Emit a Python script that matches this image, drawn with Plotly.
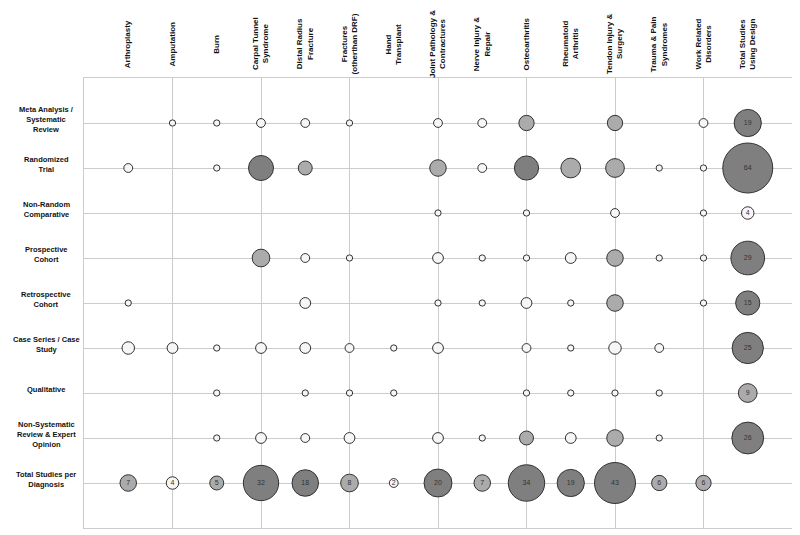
import plotly.graph_objects as go

# ---------------- data ----------------
diagnoses = ["Arthroplasty", "Amputation", "Burn", "Carpal Tunnel<br>Syndrome",
             "Distal Radius<br>Fracture", "Fractures<br>(otherthan DRF)", "Hand<br>Transplant",
             "Joint Pathology &<br>Contractures", "Nerve Injury &<br>Repair", "Osteoarthritis",
             "Rheumatoid<br>Arthritis", "Tendon Injury &<br>Surgery", "Trauma & Pain<br>Syndromes",
             "Work Related<br>Disorders"]
total_col_label = "Total Studies<br>Using Design"

designs = ["Meta Analysis /<br>Systematic<br>Review", "Randomized<br>Trial", "Non-Random<br>Comparative",
           "Prospective<br>Cohort", "Retrospective<br>Cohort", "Case Series / Case<br>Study",
           "Qualitative", "Non-Systematic<br>Review & Expert<br>Opinion"]
total_row_label = "Total Studies per<br>Diagnosis"

meta_analysis   = [0, 1, 1, 2, 2, 1, 0, 2, 2, 6, 0, 6, 0, 2]
randomized      = [2, 0, 1, 16, 5, 0, 0, 7, 2, 15, 10, 9, 1, 1]
non_random      = [0, 0, 0, 0, 0, 0, 0, 1, 0, 1, 0, 2, 0, 1]
prospective     = [0, 0, 0, 8, 2, 1, 0, 3, 1, 1, 3, 7, 1, 1]
retrospective   = [1, 0, 0, 0, 3, 0, 0, 1, 1, 3, 1, 7, 0, 1]
case_series     = [4, 3, 1, 3, 3, 2, 1, 3, 0, 2, 1, 4, 2, 0]
qualitative     = [0, 0, 1, 0, 1, 1, 1, 0, 0, 1, 1, 1, 1, 0]
non_systematic  = [0, 0, 1, 3, 2, 3, 0, 3, 1, 5, 3, 7, 1, 0]
matrix = [meta_analysis, randomized, non_random, prospective, retrospective,
          case_series, qualitative, non_systematic]

total_per_diagnosis = [7, 4, 5, 32, 18, 8, 2, 20, 7, 34, 19, 43, 6, 6]
total_per_design = [19, 64, 4, 29, 15, 25, 9, 26]

# ---------------- style ----------------
FONT = "Liberation Sans, Arial, sans-serif"
SCALE = 6.25  # px diameter per sqrt(count)


def fill_for(n):
    if n <= 4:
        return "#f6f6f6"
    if n <= 12:
        return "#ababab"
    return "#7f7f7f"


xs, ys, sizes, colors, texts = [], [], [], [], []
for r, row in enumerate(matrix):
    for c, v in enumerate(row):
        if v > 0:
            xs.append(c); ys.append(r); sizes.append(SCALE * v ** 0.5)
            colors.append(fill_for(v)); texts.append("")
n_rows = len(designs)
n_cols = len(diagnoses)
for c, v in enumerate(total_per_diagnosis):
    xs.append(c); ys.append(n_rows); sizes.append(SCALE * v ** 0.5)
    colors.append(fill_for(v)); texts.append(str(v))
for r, v in enumerate(total_per_design):
    xs.append(n_cols); ys.append(r); sizes.append(SCALE * v ** 0.5)
    colors.append(fill_for(v)); texts.append(str(v))

fig = go.Figure()
fig.add_trace(go.Scatter(
    x=xs, y=ys, mode="markers+text", text=texts, textposition="middle center",
    textfont=dict(family=FONT, size=7, color="#333333"),
    marker=dict(size=sizes, color=colors, line=dict(color="#333333", width=1), opacity=1),
    hoverinfo="skip", showlegend=False, cliponaxis=False,
))

# page body has an 8px margin; size the figure so the plot area lands where the reference has it
W, H = 792, 527
L, R, T, B = 76, 8, 70, 7
pw = W - L - R
ph = H - T - B

annotations = []
for c, lab in enumerate(diagnoses + [total_col_label]):
    annotations.append(dict(
        x=c, xref="x", y=1 + 34 / ph, yref="paper", text="<b>" + lab + "</b>",
        textangle=-90, showarrow=False, xanchor="center", yanchor="middle",
        font=dict(family=FONT, size=8, color="#111111"), align="center"))
for r, lab in enumerate(designs + [total_row_label]):
    annotations.append(dict(
        x=(38 - L) / pw, xref="paper", y=r, yref="y", text="<b>" + lab + "</b>",
        showarrow=False, xanchor="center", yanchor="middle", yshift=4,
        font=dict(family=FONT, size=7.5, color="#111111"), align="center"))

fig.update_layout(
    width=W, height=H, margin=dict(l=L, r=R, t=T, b=B, autoexpand=False),
    paper_bgcolor="white", plot_bgcolor="white",
    annotations=annotations,
    xaxis=dict(range=[-1, n_cols + 1], tickvals=list(range(1, n_cols, 2)), showticklabels=False,
               ticks="", showgrid=True, gridcolor="#cccccc", gridwidth=1, zeroline=False,
               showline=True, mirror=True, linecolor="#cccccc", linewidth=1),
    yaxis=dict(range=[n_rows + 1, -1], tickvals=list(range(0, n_rows + 1)), showticklabels=False,
               ticks="", showgrid=True, gridcolor="#cccccc", gridwidth=1, zeroline=False,
               showline=True, mirror=True, linecolor="#cccccc", linewidth=1),
)

fig.write_html("out.html")
